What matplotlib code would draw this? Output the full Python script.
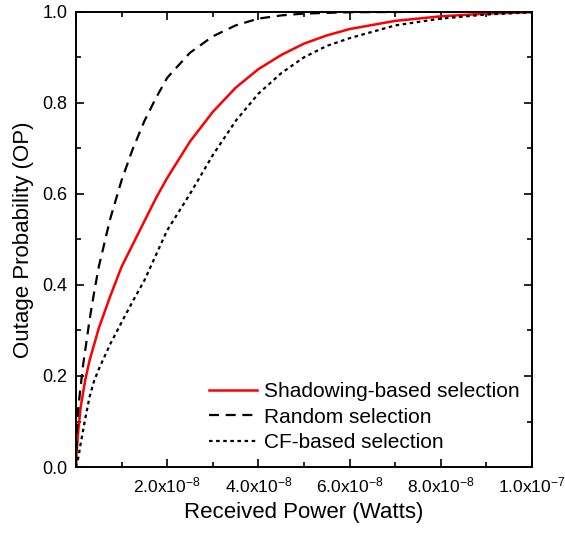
import matplotlib
matplotlib.use("Agg")
import matplotlib.pyplot as plt
from matplotlib.ticker import MultipleLocator, FuncFormatter

# =========================
# data (x in units of 1e-8 W)
# =========================

shadow_x = [0, 0.02, 0.05, 0.1, 0.2, 0.3, 0.4, 0.5, 0.75, 1.0, 1.25, 1.5, 1.75,
            2.0, 2.5, 3.0, 3.5, 4.0, 4.5, 5.0, 5.5, 6.0, 7.0, 8.0, 9.0, 10.0]
shadow_y = [0.01, 0.04, 0.08, 0.13, 0.19, 0.235, 0.27, 0.305, 0.375, 0.44,
            0.49, 0.54, 0.59, 0.635, 0.715, 0.78, 0.833, 0.874, 0.905, 0.93,
            0.948, 0.962, 0.98, 0.99, 0.996, 0.999]

random_x = [0, 0.02, 0.05, 0.1, 0.15, 0.2, 0.3, 0.4, 0.5, 0.75, 1.0, 1.25, 1.5,
            1.75, 2.0, 2.5, 3.0, 3.5, 4.0, 4.5, 5.0, 6.0, 8.0, 10.0]
random_y = [0.0, 0.08, 0.13, 0.175, 0.22, 0.255, 0.325, 0.385, 0.44, 0.545,
            0.63, 0.70, 0.76, 0.81, 0.855, 0.91, 0.946, 0.97, 0.985, 0.992,
            0.996, 0.999, 1.0, 1.0]

cf_x = [0, 0.05, 0.1, 0.2, 0.3, 0.4, 0.5, 0.75, 1.0, 1.25, 1.5, 1.75, 2.0, 2.5,
        3.0, 3.5, 4.0, 4.5, 5.0, 5.5, 6.0, 7.0, 8.0, 9.0, 10.0]
cf_y = [0.0, 0.02, 0.05, 0.105, 0.155, 0.19, 0.215, 0.27, 0.318, 0.365, 0.41,
        0.465, 0.52, 0.60, 0.685, 0.76, 0.82, 0.865, 0.90, 0.925, 0.942, 0.97,
        0.985, 0.994, 0.999]

labels = ["Shadowing-based selection", "Random selection", "CF-based selection"]

# =========================
# style
# =========================

plt.rcParams["font.family"] = ["Liberation Sans", "DejaVu Sans"]
plt.rcParams["mathtext.fontset"] = "custom"
plt.rcParams["mathtext.rm"] = "Liberation Sans"
plt.rcParams["mathtext.default"] = "regular"

fig = plt.figure(figsize=(5.65, 5.35), dpi=100)
ax = fig.add_axes([0.1345, 0.127, 0.807, 0.851])

scale = 1e-8
ax.plot([v * scale for v in shadow_x], shadow_y, color="red", lw=1.8,
        label=labels[0])
ax.plot([v * scale for v in random_x], random_y, color="black", lw=1.6,
        dashes=(4.5, 3), label=labels[1])
ax.plot([v * scale for v in cf_x], cf_y, color="black", lw=1.6,
        dashes=(1.6, 1.6), label=labels[2])

ax.set_xlim(0, 1e-7)
ax.set_ylim(0, 1.0)

ax.xaxis.set_major_locator(MultipleLocator(2e-8))
ax.xaxis.set_minor_locator(MultipleLocator(1e-8))
ax.yaxis.set_major_locator(MultipleLocator(0.2))
ax.yaxis.set_minor_locator(MultipleLocator(0.1))


def sci_fmt(v, pos):
    if v <= 0:
        return ""
    e = int(f"{v:.1e}".split("e")[1])
    m = v / 10 ** e
    return f"{m:.1f}x10$^{{{e}}}$"


ax.xaxis.set_major_formatter(FuncFormatter(sci_fmt))
ax.yaxis.set_major_formatter(FuncFormatter(lambda v, p: f"{v:.1f}"))

ax.tick_params(which="both", direction="in", top=True, right=True, width=1.2)
ax.tick_params(axis="y", labelsize=13)
ax.tick_params(axis="x", labelsize=12.5)
ax.tick_params(which="major", length=6, pad=6)
ax.tick_params(which="minor", length=3.5)
for s in ax.spines.values():
    s.set_linewidth(1.4)

ax.set_xlabel("Received Power (Watts)", fontsize=16, labelpad=5)
ax.set_ylabel("Outage Probability (OP)", fontsize=16, labelpad=6)

ax.legend(loc="lower right", bbox_to_anchor=(1.015, -0.008), frameon=False,
          fontsize=15, handlelength=2.3, handletextpad=0.35,
          labelspacing=0.3)

plt.savefig("out.png", dpi=100)
